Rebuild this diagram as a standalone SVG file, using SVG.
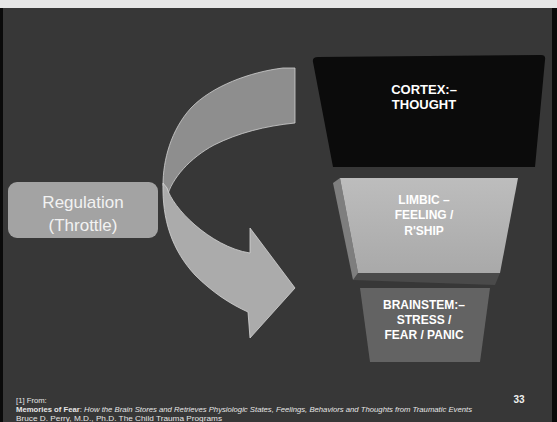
<svg xmlns="http://www.w3.org/2000/svg" width="557" height="422" viewBox="0 0 557 422">
  <style>
    .lbl { font-family: "Liberation Sans", Arial, sans-serif; font-weight: bold; fill: #ffffff; text-anchor: middle; }
    .reg { font-family: "Liberation Sans", Arial, sans-serif; font-size: 17px; fill: #f2f2f2; text-anchor: middle; }
    .foot { font-family: "Liberation Sans", Arial, sans-serif; font-size: 7.7px; fill: #e6e6e6; }
  </style>
  <defs>
    <linearGradient id="limbicFace" x1="0" y1="0" x2="0" y2="1">
      <stop offset="0" stop-color="#bdbdbd"/>
      <stop offset="1" stop-color="#a9a9a9"/>
    </linearGradient>
  </defs>

  <!-- slide background -->
  <rect x="0" y="0" width="557" height="422" fill="#373737"/>
  <rect x="0" y="0" width="557" height="8" fill="#e6e6e6"/>
  <rect x="0" y="8" width="3" height="414" fill="#0a0a0a"/>
  <rect x="552" y="8" width="5" height="414" fill="#0a0a0a"/>

  <!-- curved regulation arrow -->
  <g id="connectors">
    <path d="M295,68 L283,68 C250,72 212,86 191,108 C171,130 163,160 163,185 L167,197 C172,178 190,158 214,145 C238,133 265,126 295,123 Z" fill="#8e8e8e" stroke="#d0d0d0" stroke-width="0.8"/>
    <path d="M163,183 C162,220 172,250 195,275 C212,292 230,304 248,312 L250,338 L295,288 L250,228 L250,253 C230,250 210,238 195,225 C180,212 170,198 167,188 Z" fill="#ababab" stroke="#d6d6d6" stroke-width="0.8"/>
  </g>

  <!-- regulation label -->
  <g id="regulation">
    <rect x="8" y="182" width="150" height="56" rx="9" fill="#a3a3a3"/>
    <text class="reg" x="83" y="208">Regulation</text>
    <text class="reg" x="83" y="231">(Throttle)</text>
  </g>

  <!-- cortex level -->
  <g id="cortex">
    <path d="M318,57 L541,55 Q546,55 545,60 L535,167 L333,167 L313,62 Q312,57 318,57 Z" fill="#0b0b0b"/>
    <text class="lbl" font-size="13" x="424" y="94">CORTEX:–</text>
    <text class="lbl" font-size="13" x="424" y="109">THOUGHT</text>
  </g>

  <!-- limbic level -->
  <g id="limbic">
    <path d="M353,280 L358,273 L500,273 L495,285 Z" fill="#4a4a4a"/>
    <path d="M333,183 L340,178 L358,273 L353,280 Z" fill="#7e7e7e"/>
    <path d="M340,178 L518,178 L500,273 L358,273 Z" fill="url(#limbicFace)"/>
    <text class="lbl" font-size="12" x="424" y="204" fill="#f4f4f4">LIMBIC –</text>
    <text class="lbl" font-size="12" x="424" y="219" fill="#f4f4f4">FEELING /</text>
    <text class="lbl" font-size="12" x="424" y="235" fill="#f4f4f4">R'SHIP</text>
  </g>

  <!-- brainstem level -->
  <g id="brainstem">
    <path d="M360,288 L490,288 L480,362 L370,362 Z" fill="#636363"/>
    <text class="lbl" font-size="12" x="424" y="309">BRAINSTEM:–</text>
    <text class="lbl" font-size="12" x="424" y="324">STRESS /</text>
    <text class="lbl" font-size="12" x="424" y="339">FEAR / PANIC</text>
  </g>

  <!-- source note and slide number -->
  <g id="footer">
    <text class="foot" x="16" y="403">[1] From:</text>
    <text class="foot" x="16" y="412" textLength="456" lengthAdjust="spacingAndGlyphs"><tspan font-weight="bold">Memories of Fear</tspan>: <tspan font-style="italic">How the Brain Stores and Retrieves Physiologic States, Feelings, Behaviors and Thoughts from Traumatic Events</tspan></text>
    <text class="foot" x="16" y="421" textLength="206" lengthAdjust="spacingAndGlyphs">Bruce D. Perry, M.D., Ph.D. The Child Trauma Programs</text>
    <text x="519" y="403" font-family="Liberation Sans, Arial, sans-serif" font-size="10" font-weight="bold" fill="#f0f0f0" text-anchor="middle">33</text>
  </g>
</svg>
